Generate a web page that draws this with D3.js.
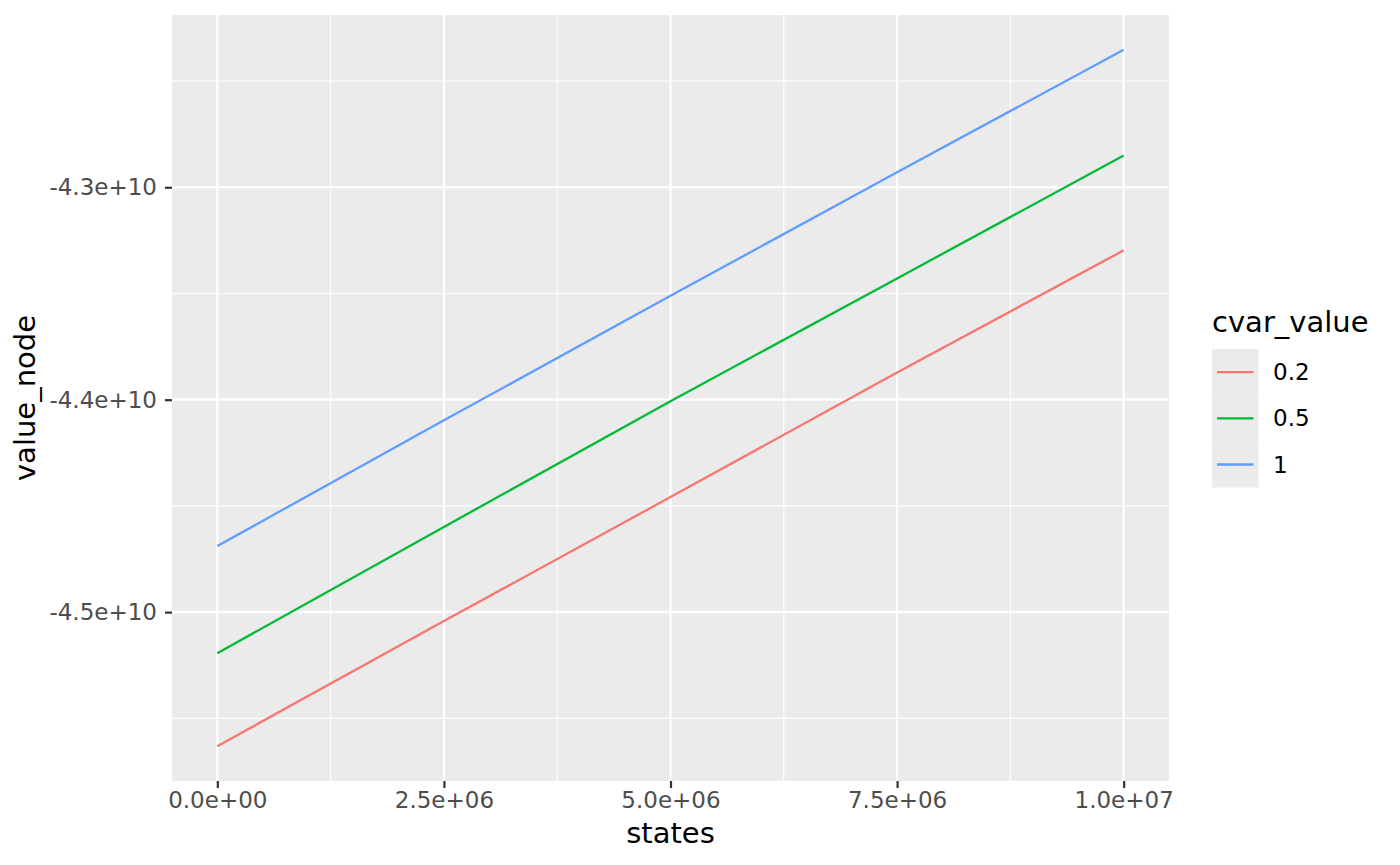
<!DOCTYPE html>
<html>
<head>
<meta charset="utf-8">
<script src="https://cdn.jsdelivr.net/npm/d3@7"></script>
<style>
  html, body { margin: 0; padding: 0; background: #fff; }
  svg { display: block; font-family: "DejaVu Sans", sans-serif; }
</style>
</head>
<body>
<svg id="chart" width="1400" height="865"></svg>
<script>
// ---- data ----
const states = [0, 2500000, 5000000, 7500000, 10000000];
const cvarLevels = ["0.2", "0.5", "1"];
const values_0_2 = [-45.631e9, -45.042e9, -44.458e9, -43.872e9, -43.297e9];
const values_0_5 = [-45.193e9, -44.599e9, -44.007e9, -43.429e9, -42.851e9];
const values_1   = [-44.689e9, -44.097e9, -43.511e9, -42.929e9, -42.353e9];
const seriesColors = ["#F8766D", "#00BA38", "#619CFF"];
const xTicks = [0, 2500000, 5000000, 7500000, 10000000];
const xTickLabels = ["0.0e+00", "2.5e+06", "5.0e+06", "7.5e+06", "1.0e+07"];
const xMinorTicks = [1250000, 3750000, 6250000, 8750000];
const yTicks = [-45e9, -44e9, -43e9];
const yTickLabels = ["-4.5e+10", "-4.4e+10", "-4.3e+10"];
const yMinorTicks = [-45.5e9, -44.5e9, -43.5e9, -42.5e9];

const series = [values_0_2, values_0_5, values_1].map((vals, i) => ({
  key: cvarLevels[i],
  color: seriesColors[i],
  points: states.map((s, j) => ({ x: s, y: vals[j] }))
}));

// ---- layout ----
const panel = { left: 172, top: 15, right: 1169, bottom: 781 };
const svg = d3.select("#chart");

const allY = series.flatMap(s => s.points.map(p => p.y));
const xMin = d3.min(states), xMax = d3.max(states);
const yMin = d3.min(allY), yMax = d3.max(allY);
const xPad = (xMax - xMin) * 0.05, yPad = (yMax - yMin) * 0.05;

const x = d3.scaleLinear().domain([xMin - xPad, xMax + xPad]).range([panel.left, panel.right]);
const y = d3.scaleLinear().domain([yMin - yPad, yMax + yPad]).range([panel.bottom, panel.top]);

// panel background
svg.append("rect")
  .attr("x", panel.left).attr("y", panel.top)
  .attr("width", panel.right - panel.left).attr("height", panel.bottom - panel.top)
  .attr("fill", "#EBEBEB");

const grid = svg.append("g");
// minor grid
grid.selectAll("line.xminor").data(xMinorTicks).enter().append("line")
  .attr("x1", d => x(d)).attr("x2", d => x(d))
  .attr("y1", panel.top).attr("y2", panel.bottom)
  .attr("stroke", "#fff").attr("stroke-width", 1.1);
grid.selectAll("line.yminor").data(yMinorTicks).enter().append("line")
  .attr("y1", d => y(d)).attr("y2", d => y(d))
  .attr("x1", panel.left).attr("x2", panel.right)
  .attr("stroke", "#fff").attr("stroke-width", 1.1);
// major grid
grid.selectAll("line.xmajor").data(xTicks).enter().append("line")
  .attr("x1", d => x(d)).attr("x2", d => x(d))
  .attr("y1", panel.top).attr("y2", panel.bottom)
  .attr("stroke", "#fff").attr("stroke-width", 2.2);
grid.selectAll("line.ymajor").data(yTicks).enter().append("line")
  .attr("y1", d => y(d)).attr("y2", d => y(d))
  .attr("x1", panel.left).attr("x2", panel.right)
  .attr("stroke", "#fff").attr("stroke-width", 2.2);

// lines
const line = d3.line().x(d => x(d.x)).y(d => y(d.y));
svg.append("g").selectAll("path").data(series).enter().append("path")
  .attr("d", d => line(d.points))
  .attr("fill", "none")
  .attr("stroke", d => d.color)
  .attr("stroke-width", 2.3);

// axes
const xAxis = d3.axisBottom(x).tickValues(xTicks)
  .tickFormat((d, i) => xTickLabels[i]).tickSize(7).tickPadding(4);
const gx = svg.append("g").attr("transform", `translate(0,${panel.bottom})`).call(xAxis);
gx.select(".domain").remove();
gx.selectAll(".tick line").attr("stroke", "#333333").attr("stroke-width", 2.2);
gx.selectAll(".tick text").attr("fill", "#4D4D4D").attr("font-size", "23px")
  .attr("font-family", "DejaVu Sans").attr("dy", "0.71em");

const yAxis = d3.axisLeft(y).tickValues(yTicks)
  .tickFormat((d, i) => yTickLabels[i]).tickSize(7).tickPadding(8);
const gy = svg.append("g").attr("transform", `translate(${panel.left},0)`).call(yAxis);
gy.select(".domain").remove();
gy.selectAll(".tick line").attr("stroke", "#333333").attr("stroke-width", 2.2);
gy.selectAll(".tick text").attr("fill", "#4D4D4D").attr("font-size", "23px")
  .attr("font-family", "DejaVu Sans");

// axis titles
svg.append("text")
  .attr("x", (x(xMin) + x(xMax)) / 2).attr("y", 843)
  .attr("text-anchor", "middle").attr("font-size", "29px").attr("fill", "#000")
  .text("states");
svg.append("text")
  .attr("transform", `translate(35,${(panel.top + panel.bottom) / 2}) rotate(-90)`)
  .attr("text-anchor", "middle").attr("font-size", "29px").attr("fill", "#000")
  .text("value_node");

// legend
const legend = svg.append("g");
legend.append("text")
  .attr("x", 1212).attr("y", 332)
  .attr("font-size", "29px").attr("fill", "#000")
  .text("cvar_value");
const keyH = 46.2, keyTop = 349, keyLeft = 1212, keyW = 46.5;
series.forEach((s, i) => {
  const ky = keyTop + i * keyH;
  legend.append("rect")
    .attr("x", keyLeft).attr("y", ky).attr("width", keyW).attr("height", keyH)
    .attr("fill", "#EBEBEB");
  legend.append("line")
    .attr("x1", keyLeft + 5).attr("x2", keyLeft + keyW - 5)
    .attr("y1", ky + keyH / 2).attr("y2", ky + keyH / 2)
    .attr("stroke", s.color).attr("stroke-width", 2.3);
  legend.append("text")
    .attr("x", 1273).attr("y", ky + keyH / 2).attr("dy", "0.35em")
    .attr("font-size", "23px").attr("fill", "#000")
    .text(s.key);
});
</script>
</body>
</html>
